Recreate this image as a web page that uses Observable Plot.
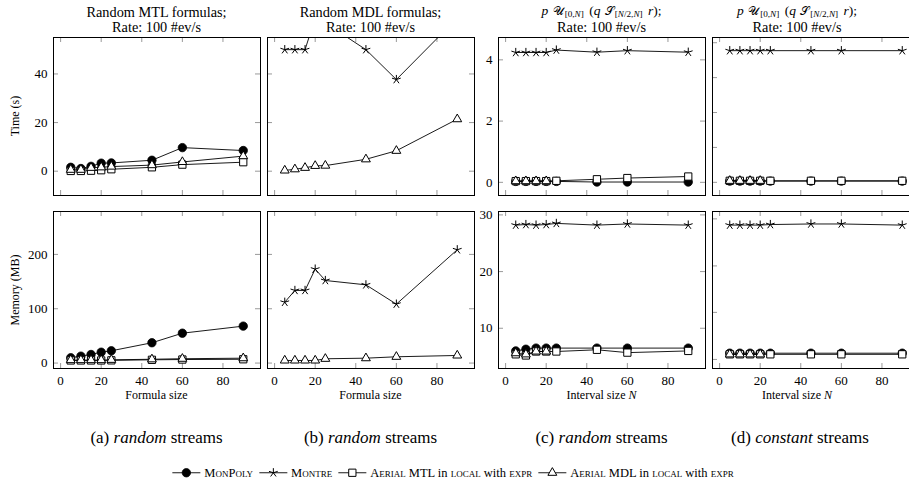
<!DOCTYPE html>
<html><head><meta charset="utf-8">
<script src="https://cdn.jsdelivr.net/npm/d3@7"></script>
<script src="https://cdn.jsdelivr.net/npm/@observablehq/plot@0.6"></script>
<style>
body{margin:0;background:#fff;}
#root{position:relative;width:909px;height:486px;overflow:hidden;font-family:"Liberation Serif","Times New Roman",Times,"DejaVu Serif",serif;color:#000;background:#fff;}
#root svg text{font-family:"Liberation Serif","Times New Roman",Times,"DejaVu Serif",serif;}
.abs{position:absolute;white-space:nowrap;line-height:1;}
.ttl{font-size:14.3px;text-align:center;transform:translate(-50%,-50%);}
.ttl.mt{font-size:13.5px;line-height:13px;}
.ylab{font-size:12px;transform:translate(-50%,-50%) rotate(-90deg);}
.xlab{font-size:12px;transform:translate(-50%,-50%);}
.cap{font-size:17px;transform:translate(-50%,-50%);}
#legend{font-size:12.5px;transform:translate(-50%,-50%);display:flex;align-items:center;}
#legend .it{display:flex;align-items:center;margin-right:5px;}
#legend svg{margin-right:3px;}
.sc{font-variant:small-caps;}
.m{font-family:"DejaVu Serif","Noto Sans",serif;font-weight:normal;font-size:88%;margin:0 1px;}
.mt sub{font-size:68%;vertical-align:-2px;line-height:0;margin-right:2px;}
</style>
</head><body>
<div id="root"></div>
<script>
// ---------- data ----------
const formulaSize = [5, 10, 15, 20, 25, 45, 60, 90];
const intervalSize = [5, 10, 15, 20, 25, 45, 60, 90];
const intervalSizeMdl = [5, 10, 15, 20];

// (a) random MTL formulas
const timeA_MonPoly = [1.6, 1.1, 2.0, 3.3, 3.4, 4.5, 9.7, 8.5];
const timeA_MTL     = [0.1, 0.1, 0.2, 0.4, 0.8, 1.6, 2.7, 3.7];
const timeA_MDL     = [0.6, 0.6, 1.4, 1.6, 1.9, 2.5, 3.8, 6.2];
const memA_MonPoly  = [9.8, 12.7, 15.8, 20, 22.6, 37.4, 55, 68];
const memA_MTL      = [4.8, 4.8, 4.8, 4.8, 5.0, 6.0, 6.5, 7.0];
const memA_MDL      = [5.5, 5.5, 5.5, 5.5, 6.0, 7.0, 8.0, 9.0];

// (b) random MDL formulas
const timeB_Montre  = [50, 50, 50, 63, 61, 50, 37.7, 63];
const timeB_MDL     = [0.3, 0.8, 1.4, 2.2, 2.3, 4.9, 8.4, 21.4];
const memB_Montre   = [112, 133.7, 133.7, 173, 152, 144, 108.5, 208.6];
const memB_MDL      = [4.8, 4.8, 4.8, 4.8, 7.9, 9.0, 11.6, 14];

// (c) random streams, interval size
const timeC_Montre  = [4.24, 4.24, 4.24, 4.24, 4.32, 4.25, 4.3, 4.25];
const timeC_MonPoly = [0.03, 0.03, 0.03, 0.03, 0.03, 0.01, 0.01, 0.01];
const timeC_MTL     = [0.04, 0.04, 0.04, 0.04, 0.05, 0.10, 0.14, 0.19];
const timeC_MDL     = [0.04, 0.04, 0.04, 0.04];
const memC_Montre   = [28.2, 28.3, 28.2, 28.3, 28.5, 28.2, 28.4, 28.2];
const memC_MonPoly  = [6.0, 6.3, 6.5, 6.5, 6.5, 6.5, 6.5, 6.5];
const memC_MTL      = [5.4, 5.2, 5.9, 5.9, 5.9, 6.2, 5.7, 6.0];
const memC_MDL      = [5.6, 5.4, 5.9, 5.9];

// (d) constant streams, interval size
const timeD_Montre  = [4.3, 4.3, 4.3, 4.3, 4.3, 4.3, 4.3, 4.3];
const timeD_MonPoly = [0.04, 0.04, 0.04, 0.04, 0.04, 0.04, 0.04, 0.04];
const timeD_MTL     = [0.05, 0.05, 0.05, 0.05, 0.05, 0.05, 0.05, 0.05];
const timeD_MDL     = [0.05, 0.05, 0.05, 0.05];
const memD_Montre   = [28.2, 28.2, 28.2, 28.2, 28.3, 28.4, 28.4, 28.2];
const memD_MonPoly  = [5.6, 5.6, 5.6, 5.6, 5.6, 5.6, 5.6, 5.6];
const memD_MTL      = [5.4, 5.4, 5.4, 5.4, 5.4, 5.4, 5.4, 5.4];
const memD_MDL      = [5.4, 5.4, 5.4, 5.4];

// ticks and domains
const xTicks = [0, 20, 40, 60, 80];
const xDomain = [-3.5, 98.5];
const timeDomainAB = [-10, 55];
const memDomainAB = [-10, 279];
const timeDomainCD = [-0.43, 4.73];
const memDomainCD = [2.9, 30.6];
const timeTicksAB = [0, 20, 40];
const memTicksAB = [0, 100, 200];
const timeTicksC = [0, 2, 4];
const memTicksC = [10, 20, 30];
const timeTicksD = [0, 1.14, 2.28, 3.42, 4.56];
const memTicksD = [4.5, 12.8, 21, 29.3];

const seriesNames = ["MonPoly", "Montre", "Aerial MTL", "Aerial MDL"];
const panelTitles = ["Random MTL formulas;", "Random MDL formulas;"];
const rateText = "Rate: 100 #ev/s";

// ---------- styles ----------
const star = {
  draw(ctx, size) {
    const r = Math.sqrt(size / Math.PI);
    for (let i = 0; i < 5; i++) {
      const a = -Math.PI / 2 + i * 2 * Math.PI / 5;
      ctx.moveTo(0, 0);
      ctx.lineTo(r * Math.cos(a), r * Math.sin(a));
    }
  }
};
const style = {
  "MonPoly":    {symbol: "circle", fill: "black", stroke: "black", r: 4.2, sw: 0.8},
  "Montre":     {symbol: star, fill: "none", stroke: "black", r: 4.6, sw: 1},
  "Aerial MTL": {symbol: "square", fill: "white", stroke: "black", r: 4.1, sw: 1},
  "Aerial MDL": {symbol: "triangle", fill: "white", stroke: "black", r: 3.3, sw: 1}
};

const colX = [53, 267, 498, 712];
const rowY = [37, 211];
const FW = 207, FH = [158, 157];

const panels = [
  {c:0, r:0, yd: timeDomainAB, yt: timeTicksAB, yl: true,
   s: [["MonPoly", formulaSize, timeA_MonPoly], ["Aerial MTL", formulaSize, timeA_MTL], ["Aerial MDL", formulaSize, timeA_MDL]]},
  {c:1, r:0, yd: timeDomainAB, yt: timeTicksAB, yl: false,
   s: [["Montre", formulaSize, timeB_Montre], ["Aerial MDL", formulaSize, timeB_MDL]]},
  {c:2, r:0, yd: timeDomainCD, yt: timeTicksC, yl: true,
   s: [["MonPoly", intervalSize, timeC_MonPoly], ["Montre", intervalSize, timeC_Montre], ["Aerial MTL", intervalSize, timeC_MTL], ["Aerial MDL", intervalSizeMdl, timeC_MDL]]},
  {c:3, r:0, yd: timeDomainCD, yt: timeTicksD, yl: false,
   s: [["MonPoly", intervalSize, timeD_MonPoly], ["Montre", intervalSize, timeD_Montre], ["Aerial MTL", intervalSize, timeD_MTL], ["Aerial MDL", intervalSizeMdl, timeD_MDL]]},
  {c:0, r:1, yd: memDomainAB, yt: memTicksAB, yl: true,
   s: [["MonPoly", formulaSize, memA_MonPoly], ["Aerial MTL", formulaSize, memA_MTL], ["Aerial MDL", formulaSize, memA_MDL]]},
  {c:1, r:1, yd: memDomainAB, yt: memTicksAB, yl: false,
   s: [["Montre", formulaSize, memB_Montre], ["Aerial MDL", formulaSize, memB_MDL]]},
  {c:2, r:1, yd: memDomainCD, yt: memTicksC, yl: true,
   s: [["MonPoly", intervalSize, memC_MonPoly], ["Montre", intervalSize, memC_Montre], ["Aerial MTL", intervalSize, memC_MTL], ["Aerial MDL", intervalSizeMdl, memC_MDL]]},
  {c:3, r:1, yd: memDomainCD, yt: memTicksD, yl: false,
   s: [["MonPoly", intervalSize, memD_MonPoly], ["Montre", intervalSize, memD_Montre], ["Aerial MTL", intervalSize, memD_MTL], ["Aerial MDL", intervalSizeMdl, memD_MDL]]}
];

const root = document.getElementById("root");
const ML = 40, MR = 6, MT = 6, MB = 26, TL = 5;
const tickColor = "#808080";
const serif = "'Liberation Serif', 'Times New Roman', Times, serif";

for (const p of panels) {
  const fh = FH[p.r];
  const marks = [
    Plot.ruleX(xTicks, {x: d => d, insetBottom: fh - TL, stroke: tickColor, strokeWidth: 0.8}),
    Plot.ruleX(xTicks, {x: d => d, insetTop: fh - TL, stroke: tickColor, strokeWidth: 0.8}),
    Plot.ruleY(p.yt, {y: d => d, insetRight: FW - TL, stroke: tickColor, strokeWidth: 0.8}),
    Plot.ruleY(p.yt, {y: d => d, insetLeft: FW - TL, stroke: tickColor, strokeWidth: 0.8})
  ];
  for (const [name, xs, ys] of p.s) {
    const st = style[name];
    const data = xs.map((x, i) => ({x, y: ys[i]}));
    marks.push(Plot.line(data, {x: "x", y: "y", stroke: "black", strokeWidth: 0.9, clip: true}));
    marks.push(Plot.dot(data, {x: "x", y: "y", symbol: st.symbol, r: st.r, fill: st.fill, stroke: st.stroke, strokeWidth: st.sw, clip: true}));
  }
  marks.push(Plot.frame({stroke: "black", strokeWidth: 1}));
  if (p.yl) marks.push(Plot.axisY({ticks: p.yt, tickSize: 0, tickPadding: 6, label: null, fontSize: 13, fontFamily: serif, tickFormat: d => d}));
  if (p.r === 1) marks.push(Plot.axisX({ticks: xTicks, tickSize: 0, tickPadding: 7, label: null, fontSize: 13, fontFamily: serif}));
  const chart = Plot.plot({
    width: FW + ML + MR, height: fh + MT + MB,
    marginLeft: ML, marginRight: MR, marginTop: MT, marginBottom: MB,
    x: {domain: xDomain, axis: null},
    y: {domain: p.yd, axis: null},
    style: {background: "transparent", overflow: "visible", fontFamily: serif, color: "black"},
    marks
  });
  chart.style.position = "absolute";
  chart.style.left = (colX[p.c] - ML) + "px";
  chart.style.top = (rowY[p.r] - MT) + "px";
  root.appendChild(chart);
}

function addText(cls, html, x, y) {
  const d = document.createElement("div");
  d.className = "abs " + cls;
  d.innerHTML = html;
  d.style.left = x + "px";
  d.style.top = y + "px";
  root.appendChild(d);
  return d;
}
const cx = [colX[0] + FW / 2, colX[1] + FW / 2, colX[2] + FW / 2, 797];
const mathTitle = '<i>p</i> <span class="m">𝒰</span><sub>[0,<i>N</i>]</sub> (<i>q</i> <span class="m">𝒮</span><sub>[<i>N</i>/2,<i>N</i>]</sub> <i>r</i>);';
addText("ttl", panelTitles[0], cx[0], 12);
addText("ttl", panelTitles[1], cx[1], 12);
addText("ttl mt", mathTitle, cx[2], 11);
addText("ttl mt", mathTitle, cx[3], 11);
for (let c = 0; c < 4; c++) addText("ttl", rateText, cx[c], 26.5);

addText("ylab", "Time (s)", 15, 116);
addText("ylab", "Memory (MB)", 15, 290);
addText("xlab", "Formula size", cx[0], 395);
addText("xlab", "Formula size", cx[1], 395);
addText("xlab", "Interval size <i>N</i>", cx[2], 395);
addText("xlab", "Interval size <i>N</i>", cx[3], 395);
addText("cap", "(a) <i>random</i> streams", cx[0], 437);
addText("cap", "(b) <i>random</i> streams", cx[1], 437);
addText("cap", "(c) <i>random</i> streams", cx[2], 437);
addText("cap", "(d) <i>constant</i> streams", cx[3] + 3, 437);

// legend
const legendLabels = {
  "MonPoly": '<span class="sc">MonPoly</span>',
  "Montre": '<span class="sc">Montre</span>',
  "Aerial MTL": '<span class="sc">Aerial</span> MTL in <span class="sc">local</span> with <span class="sc">expr</span>',
  "Aerial MDL": '<span class="sc">Aerial</span> MDL in <span class="sc">local</span> with <span class="sc">expr</span>'
};
const leg = addText("", "", 455, 473);
leg.id = "legend";
for (const name of seriesNames) {
  const st = style[name];
  const it = document.createElement("span");
  it.className = "it";
  const d3sym = st.symbol === "circle" ? d3.symbolCircle : st.symbol === "square" ? d3.symbolSquare : st.symbol === "triangle" ? d3.symbolTriangle : star;
  const path = d3.symbol(d3sym, st.r * st.r * Math.PI)();
  it.innerHTML = `<svg width="30" height="12" viewBox="-15 -6 30 12"><line x1="-14" x2="14" stroke="black" stroke-width="0.9"/><path d="${path}" fill="${st.fill}" stroke="black" stroke-width="${st.sw}"/></svg><span>${legendLabels[name]}</span>`;
  leg.appendChild(it);
}
</script>
</body></html>
